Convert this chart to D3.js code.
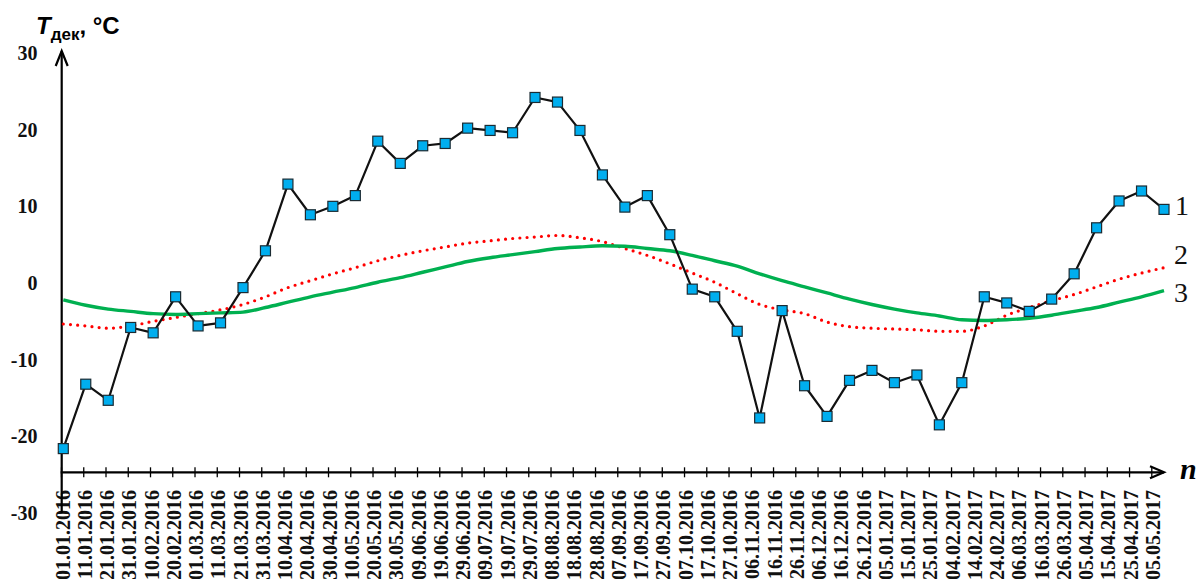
<!DOCTYPE html>
<html>
<head>
<meta charset="utf-8">
<script src="https://cdn.jsdelivr.net/npm/d3@7"></script>
<style>
	body { margin: 0; background: #fff; }
	svg { display: block; }
</style>
</head>
<body>
<div class="canvas"></div>
<script>
// tick labels (every 10 days)
const dates = [
	'01.01.2016', '11.01.2016', '21.01.2016', '31.01.2016', '10.02.2016', '20.02.2016',
	'01.03.2016', '11.03.2016', '21.03.2016', '31.03.2016', '10.04.2016', '20.04.2016',
	'30.04.2016', '10.05.2016', '20.05.2016', '30.05.2016', '09.06.2016', '19.06.2016',
	'29.06.2016', '09.07.2016', '19.07.2016', '29.07.2016', '08.08.2016', '18.08.2016',
	'28.08.2016', '07.09.2016', '17.09.2016', '27.09.2016', '07.10.2016', '17.10.2016',
	'27.10.2016', '06.11.2016', '16.11.2016', '26.11.2016', '06.12.2016', '16.12.2016',
	'26.12.2016', '05.01.2017', '15.01.2017', '25.01.2017', '04.02.2017', '14.02.2017',
	'24.02.2017', '06.03.2017', '16.03.2017', '26.03.2017', '05.04.2017', '15.04.2017',
	'25.04.2017', '05.05.2017'
];

// 1 - decade temperature
const series1 = [
	-21.6, -13.2, -15.3, -5.8, -6.5, -1.8, -5.6, -5.2, -0.6, 4.2,
	12.9, 8.9, 10.0, 11.4, 18.5, 15.6, 17.9, 18.2, 20.2, 19.9,
	19.6, 24.2, 23.6, 19.9, 14.1, 9.9, 11.4, 6.3, -0.8, -1.8,
	-6.3, -17.6, -3.6, -13.4, -17.4, -12.7, -11.4, -13.0, -12.0, -18.5,
	-13.0, -1.8, -2.6, -3.7, -2.1, 1.2, 7.2, 10.7, 12.0, 9.6
];

// 2 - dotted red
const series2 = [
	-5.35, -5.6, -5.9, -5.6, -5.0, -4.5, -4.0, -3.5, -2.8, -1.8,
	-0.6, 0.3, 1.2, 2.0, 2.9, 3.6, 4.2, 4.7, 5.2, 5.5,
	5.8, 6.0, 6.2, 5.9, 5.4, 4.5, 3.6, 2.5, 1.3, 0.1,
	-1.4, -2.8, -3.5, -4.0, -5.1, -5.7, -5.9, -6.0, -6.1, -6.3,
	-6.3, -5.6, -4.2, -3.2, -2.3, -1.5, -0.5, 0.5, 1.3, 2.0
];

// 3 - green
const series3 = [
	-2.2, -2.9, -3.4, -3.7, -4.0, -4.1, -4.0, -3.9, -3.8, -3.2,
	-2.5, -1.8, -1.2, -0.6, 0.1, 0.7, 1.4, 2.1, 2.8, 3.3,
	3.7, 4.1, 4.5, 4.7, 4.85, 4.8, 4.5, 4.2, 3.6, 2.9,
	2.2, 1.2, 0.3, -0.5, -1.3, -2.1, -2.8, -3.4, -3.9, -4.3,
	-4.8, -4.9, -4.8, -4.6, -4.2, -3.7, -3.2, -2.5, -1.8, -1.0
];

const yTicks = [30, 20, 10, 0, -10, -20, -30];
const seriesNames = ['1', '2', '3'];

const dims = {width: 1197, height: 579};

const svg = d3.select('.canvas')
	.append('svg')
	.attr('width', dims.width)
	.attr('height', dims.height);

// scales
const y = d3.scaleLinear()
	.domain([-30, 30])
	.range([513, 53]);

// data points sit on a slightly wider span than the tick marks
const xData = d3.scalePoint()
	.domain(dates)
	.range([63.3, 1164]);

const xTick = d3.scalePoint()
	.domain(dates)
	.range([61, 1151.3]);

const axisY = 472.3;
const axisX = 61.7;

// x axis ticks and rotated labels
const xAxis = svg.append('g')
	.attr('transform', `translate(0, ${axisY})`)
	.call(d3.axisBottom(xTick).tickSize(5).tickPadding(0));

xAxis.select('.domain').remove();
xAxis.selectAll('.tick line')
	.attr('y1', -5)
	.attr('y2', 5)
	.attr('stroke', '#000')
	.attr('stroke-width', 1.3);
xAxis.selectAll('.tick text')
	.attr('transform', 'rotate(-90)')
	.attr('text-anchor', 'end')
	.attr('x', -17.7)
	.attr('y', 1)
	.attr('dy', '0.35em')
	.attr('fill', '#111')
	.style('font-family', '"Liberation Serif", "Times New Roman", serif')
	.style('font-weight', 'bold')
	.style('font-size', '20px');

// y tick labels (no tick marks)
svg.append('g')
	.selectAll('text')
	.data(yTicks)
	.enter()
	.append('text')
		.attr('x', 37.5)
		.attr('y', d => y(d))
		.attr('dy', '0.35em')
		.attr('text-anchor', 'end')
		.attr('fill', '#111')
		.style('font-family', '"Liberation Serif", "Times New Roman", serif')
		.style('font-weight', 'bold')
		.style('font-size', '20px')
		.text(d => d);

// axis lines with open arrows
const axes = svg.append('g')
	.attr('stroke', '#000')
	.attr('stroke-width', 2.2)
	.attr('fill', 'none');

axes.append('line')
	.attr('x1', axisX).attr('y1', 513)
	.attr('x2', axisX).attr('y2', 51);
axes.append('path')
	.attr('d', `M${axisX - 6},${66} L${axisX},${51} L${axisX + 6},${66}`);

axes.append('line')
	.attr('x1', axisX - 1).attr('y1', axisY)
	.attr('x2', 1164).attr('y2', axisY);
axes.append('path')
	.attr('d', `M1150,${axisY - 6} L1164,${axisY} L1150,${axisY + 6}`);

// line generators
const smooth = d3.line()
	.x((d, i) => xData(dates[i]))
	.y(d => y(d))
	.curve(d3.curveMonotoneX);

const straight = d3.line()
	.x((d, i) => xData(dates[i]))
	.y(d => y(d));

// 2 - red dotted
svg.append('path')
	.datum(series2)
	.attr('fill', 'none')
	.attr('stroke', '#ff0000')
	.attr('stroke-width', 3.2)
	.attr('stroke-linecap', 'round')
	.attr('stroke-dasharray', '0 7.2')
	.attr('d', smooth);

// 3 - green
svg.append('path')
	.datum(series3)
	.attr('fill', 'none')
	.attr('stroke', '#00b050')
	.attr('stroke-width', 3.4)
	.attr('d', smooth);

// 1 - black line with square markers
svg.append('path')
	.datum(series1)
	.attr('fill', 'none')
	.attr('stroke', '#111')
	.attr('stroke-width', 2.2)
	.attr('stroke-linejoin', 'round')
	.attr('d', straight);

svg.append('g')
	.selectAll('rect')
	.data(series1)
	.enter()
	.append('rect')
		.attr('x', (d, i) => xData(dates[i]) - 5)
		.attr('y', d => y(d) - 5)
		.attr('width', 10)
		.attr('height', 10)
		.attr('fill', '#00aeef')
		.attr('stroke', '#1b2b33')
		.attr('stroke-width', 1.2);

// series numbers at right end
const labelPos = [{x: 1175, y: 215}, {x: 1174, y: 264}, {x: 1174, y: 302}];
svg.append('g')
	.selectAll('text')
	.data(seriesNames)
	.enter()
	.append('text')
		.attr('x', (d, i) => labelPos[i].x)
		.attr('y', (d, i) => labelPos[i].y)
		.attr('fill', '#111')
		.style('font-family', '"Liberation Serif", "Times New Roman", serif')
		.style('font-size', '28px')
		.text(d => d);

// axis titles
const title = svg.append('text')
	.attr('x', 36)
	.attr('y', 34)
	.attr('fill', '#000')
	.style('font-family', '"Liberation Sans", Arial, sans-serif')
	.style('font-weight', 'bold')
	.style('font-size', '24px');
title.append('tspan').style('font-style', 'italic').text('T');
title.append('tspan').attr('dy', 6).style('font-size', '17px').text('дек');
title.append('tspan').attr('dy', -6).text(', °C');

svg.append('text')
	.attr('x', 1180)
	.attr('y', 479)
	.attr('fill', '#000')
	.style('font-family', '"Liberation Serif", "Times New Roman", serif')
	.style('font-weight', 'bold')
	.style('font-style', 'italic')
	.style('font-size', '30px')
	.text('n');
</script>
</body>
</html>
